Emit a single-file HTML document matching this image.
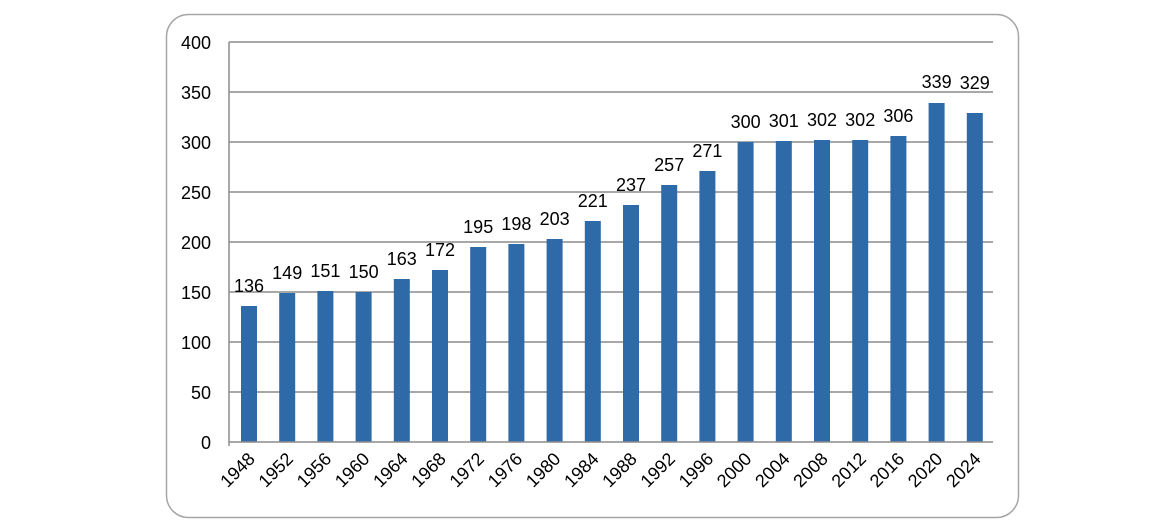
<!DOCTYPE html>
<html><head><meta charset="utf-8"><style>
html,body{margin:0;padding:0;background:#fff;}
svg{display:block;}
text{font-family:"Liberation Sans",sans-serif;font-size:18px;fill:#000;}
</style></head><body>
<svg width="1174" height="532" xmlns="http://www.w3.org/2000/svg">
<rect x="166.5" y="14.5" width="852" height="503" rx="22" ry="22" fill="#fff" stroke="#a6a6a6" stroke-width="1.5"/>
<g stroke="#8c8c8c" stroke-width="1.5">
<line x1="229" y1="42" x2="993" y2="42"/>
<line x1="229" y1="92" x2="993" y2="92"/>
<line x1="229" y1="142" x2="993" y2="142"/>
<line x1="229" y1="192" x2="993" y2="192"/>
<line x1="229" y1="242" x2="993" y2="242"/>
<line x1="229" y1="292" x2="993" y2="292"/>
<line x1="229" y1="342" x2="993" y2="342"/>
<line x1="229" y1="392" x2="993" y2="392"/>
<line x1="229" y1="42" x2="229" y2="446"/>
</g>
<g text-anchor="end">
<text x="211" y="49">400</text>
<text x="211" y="99">350</text>
<text x="211" y="149">300</text>
<text x="211" y="199">250</text>
<text x="211" y="249">200</text>
<text x="211" y="299">150</text>
<text x="211" y="349">100</text>
<text x="211" y="399">50</text>
<text x="211" y="449">0</text>
</g>
<g fill="#2e6aa8">
<rect x="241" y="306" width="16" height="136"/>
<rect x="279.2" y="293" width="16" height="149"/>
<rect x="317.4" y="291" width="16" height="151"/>
<rect x="355.6" y="292" width="16" height="150"/>
<rect x="393.8" y="279" width="16" height="163"/>
<rect x="432" y="270" width="16" height="172"/>
<rect x="470.2" y="247" width="16" height="195"/>
<rect x="508.4" y="244" width="16" height="198"/>
<rect x="546.6" y="239" width="16" height="203"/>
<rect x="584.8" y="221" width="16" height="221"/>
<rect x="623" y="205" width="16" height="237"/>
<rect x="661.2" y="185" width="16" height="257"/>
<rect x="699.4" y="171" width="16" height="271"/>
<rect x="737.6" y="142" width="16" height="300"/>
<rect x="775.8" y="141" width="16" height="301"/>
<rect x="814" y="140" width="16" height="302"/>
<rect x="852.2" y="140" width="16" height="302"/>
<rect x="890.4" y="136" width="16" height="306"/>
<rect x="928.6" y="103" width="16" height="339"/>
<rect x="966.8" y="113" width="16" height="329"/>
</g>
<line x1="229" y1="442" x2="993" y2="442" stroke="#8c8c8c" stroke-width="1.5"/>
<g text-anchor="middle">
<text x="249" y="292">136</text>
<text x="287.2" y="279">149</text>
<text x="325.4" y="277">151</text>
<text x="363.6" y="278">150</text>
<text x="401.8" y="265">163</text>
<text x="440" y="256">172</text>
<text x="478.2" y="233">195</text>
<text x="516.4" y="230">198</text>
<text x="554.6" y="225">203</text>
<text x="592.8" y="207">221</text>
<text x="631" y="191">237</text>
<text x="669.2" y="171">257</text>
<text x="707.4" y="157">271</text>
<text x="745.6" y="128">300</text>
<text x="783.8" y="127">301</text>
<text x="822" y="126">302</text>
<text x="860.2" y="126">302</text>
<text x="898.4" y="122">306</text>
<text x="936.6" y="88">339</text>
<text x="974.8" y="89">329</text>
</g>
<g text-anchor="end">
<text transform="translate(256,460) rotate(-45)">1948</text>
<text transform="translate(294.2,460) rotate(-45)">1952</text>
<text transform="translate(332.4,460) rotate(-45)">1956</text>
<text transform="translate(370.6,460) rotate(-45)">1960</text>
<text transform="translate(408.8,460) rotate(-45)">1964</text>
<text transform="translate(447,460) rotate(-45)">1968</text>
<text transform="translate(485.2,460) rotate(-45)">1972</text>
<text transform="translate(523.4,460) rotate(-45)">1976</text>
<text transform="translate(561.6,460) rotate(-45)">1980</text>
<text transform="translate(599.8,460) rotate(-45)">1984</text>
<text transform="translate(638,460) rotate(-45)">1988</text>
<text transform="translate(676.2,460) rotate(-45)">1992</text>
<text transform="translate(714.4,460) rotate(-45)">1996</text>
<text transform="translate(752.6,460) rotate(-45)">2000</text>
<text transform="translate(790.8,460) rotate(-45)">2004</text>
<text transform="translate(829,460) rotate(-45)">2008</text>
<text transform="translate(867.2,460) rotate(-45)">2012</text>
<text transform="translate(905.4,460) rotate(-45)">2016</text>
<text transform="translate(943.6,460) rotate(-45)">2020</text>
<text transform="translate(981.8,460) rotate(-45)">2024</text>
</g>
</svg>
</body></html>
